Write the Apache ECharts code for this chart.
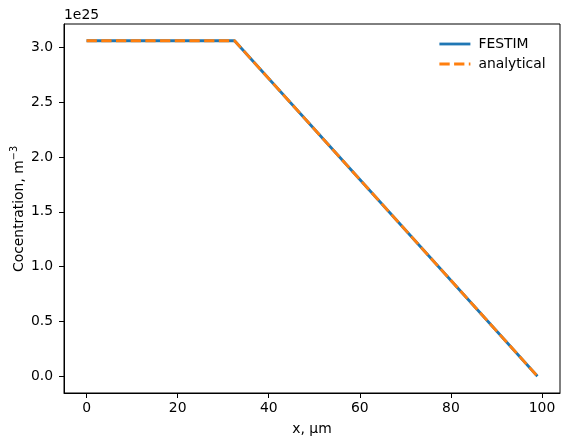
<!DOCTYPE html>
<html>
<head>
<meta charset="utf-8">
<script src="https://cdn.jsdelivr.net/npm/echarts@6/dist/echarts.min.js"></script>
<style>
  html, body { margin: 0; padding: 0; background: #fff; }
  #chart { width: 569px; height: 447px; }
</style>
</head>
<body>
<div id="chart"></div>
<script>
// x positions (μm) and concentration values (m^-3)
const xPoints = [0, 32.5, 99]
const festimValues = [3.06e25, 3.06e25, 0]
const analyticalValues = [3.06e25, 3.06e25, 0]
const xTicks = [0, 20, 40, 60, 80, 100]
const yTicks = [0, 0.5e25, 1.0e25, 1.5e25, 2.0e25, 2.5e25, 3.0e25]

const font = 'DejaVu Sans'
const fontSize = 13.9

const chart = echarts.init(document.getElementById('chart'), null, { renderer: 'canvas' })

const toPairs = (xs, ys) => xs.map((x, i) => [x, ys[i]])

chart.setOption({
  animation: false,
  backgroundColor: '#ffffff',
  textStyle: { fontFamily: font },
  grid: {
    left: 64,
    right: 9,
    top: 24,
    bottom: 54,
    containLabel: false,
    outerBoundsMode: 'none',
    show: true,
    borderColor: '#000',
    borderWidth: 1,
    backgroundColor: 'transparent'
  },
  legend: {
    orient: 'vertical',
    left: 438,
    top: 37,
    padding: 0,
    itemWidth: 31,
    itemHeight: 12,
    itemGap: 6,
    itemStyle: { opacity: 0 },
    lineStyle: { width: 2.8 },
    textStyle: { fontFamily: font, fontSize: fontSize, color: '#000', padding: [0, 0, 0, 3] },
    data: ['FESTIM', 'analytical']
  },
  graphic: [
    {
      type: 'text',
      left: 64,
      top: 8,
      style: { text: '1e25', font: fontSize + 'px ' + font, fill: '#000' }
    },
    {
      // y axis title, rotated
      type: 'text',
      x: 19,
      y: 209,
      rotation: Math.PI / 2,
      style: {
        text: 'Cocentration, m{sup|−3}',
        fontFamily: font,
        fontSize: fontSize,
        fill: '#000',
        align: 'center',
        verticalAlign: 'middle',
        rich: {
          sup: { fontFamily: font, fontSize: 9.7, fill: '#000', verticalAlign: 'bottom', padding: [0, 0, 10, 0] }
        }
      }
    }
  ],
  xAxis: {
    type: 'value',
    min: -4.95,
    max: 103.95,
    name: 'x, μm',
    nameLocation: 'middle',
    nameGap: 29,
    nameTextStyle: { fontFamily: font, fontSize: fontSize, color: '#000', verticalAlign: 'top' },
    splitLine: { show: false },
    axisLine: { show: true, onZero: false, lineStyle: { color: '#000', width: 1 } },
    axisTick: { show: true, inside: false, length: 5, customValues: xTicks, lineStyle: { color: '#000' } },
    axisLabel: {
      customValues: xTicks,
      margin: 8,
      fontFamily: font,
      fontSize: fontSize,
      color: '#000',
      formatter: v => String(v)
    }
  },
  yAxis: {
    type: 'value',
    min: -0.153e25,
    max: 3.213e25,
    splitLine: { show: false },
    axisLine: { show: true, onZero: false, lineStyle: { color: '#000', width: 1 } },
    axisTick: { show: true, inside: false, length: 5, customValues: yTicks, lineStyle: { color: '#000' } },
    axisLabel: {
      customValues: yTicks,
      margin: 11,
      fontFamily: font,
      fontSize: fontSize,
      color: '#000',
      formatter: v => (v / 1e25).toFixed(1)
    }
  },
  series: [
    {
      name: 'FESTIM',
      type: 'line',
      data: toPairs(xPoints, festimValues),
      symbol: 'none',
      color: '#1f77b4',
      lineStyle: { color: '#1f77b4', width: 2.8, join: 'round', cap: 'butt' },
      z: 2
    },
    {
      name: 'analytical',
      type: 'line',
      data: toPairs(xPoints, analyticalValues),
      symbol: 'none',
      color: '#ff7f0e',
      lineStyle: { color: '#ff7f0e', width: 2.8, type: [10.3, 4.4], join: 'round', cap: 'butt' },
      z: 3
    }
  ]
})
</script>
</body>
</html>
